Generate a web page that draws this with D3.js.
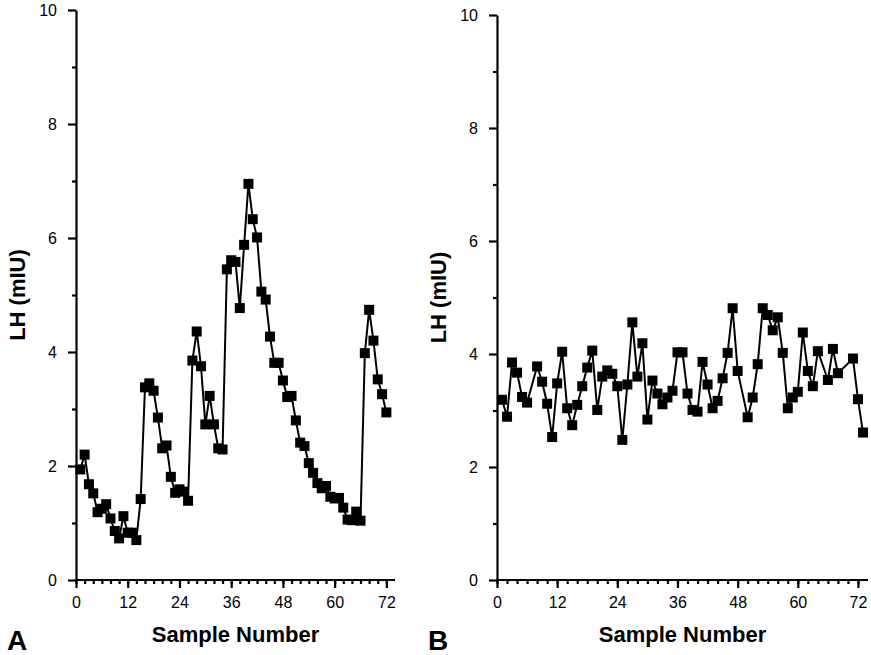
<!DOCTYPE html>
<html lang="en">
<head>
  <meta charset="utf-8">
  <title>LH pulses</title>
  <script src="https://d3js.org/d3.v7.min.js"></script>
  <style>
  body { margin: 0; background: #fff; }
  svg { font-family: "Liberation Sans", Arial, sans-serif; }
  </style>
</head>
<body>
  <script>
  // panel A samples 1..72
  var samplesA = d3.range(1, 73);
  var lhA = [1.94, 2.2, 1.68, 1.52, 1.19, 1.25, 1.33, 1.08, 0.86, 0.73,
    1.12, 0.83, 0.83, 0.70, 1.42, 3.38, 3.45, 3.32, 2.85, 2.31,
    2.36, 1.81, 1.53, 1.59, 1.55, 1.39, 3.85, 4.36, 3.75, 2.73,
    3.23, 2.73, 2.31, 2.29, 5.45, 5.61, 5.58, 4.77, 5.88, 6.95,
    6.33, 6.01, 5.06, 4.92, 4.27, 3.81, 3.81, 3.50, 3.21, 3.23,
    2.80, 2.41, 2.35, 2.05, 1.88, 1.70, 1.61, 1.65, 1.46, 1.43,
    1.44, 1.27, 1.06, 1.05, 1.20, 1.04, 3.98, 4.74, 4.20, 3.52,
    3.26, 2.94];

  // panel B has a few gaps
  var samplesB = [1, 2, 3, 4, 5, 6, 8, 9, 10, 11, 12, 13, 14, 15, 16, 17, 18, 19, 20,
    21, 22, 23, 24, 25, 26, 27, 28, 29, 30, 31, 32, 33, 34, 35, 36, 37, 38, 39, 40,
    41, 42, 43, 44, 45, 46, 47, 48, 50, 51, 52, 53, 54, 55, 56, 57, 58, 59, 60,
    61, 62, 63, 64, 66, 67, 68, 71, 72, 73];
  var lhB = [3.19, 2.89, 3.85, 3.67, 3.24, 3.14, 3.78, 3.51, 3.12, 2.53, 3.48, 4.04, 3.04, 2.74, 3.10, 3.43, 3.76, 4.06, 3.01,
    3.60, 3.71, 3.65, 3.43, 2.48, 3.46, 4.56, 3.60, 4.19, 2.84, 3.53, 3.30, 3.11, 3.23, 3.35, 4.03, 4.03, 3.30, 3.01, 2.98,
    3.86, 3.46, 3.04, 3.17, 3.57, 4.02, 4.81, 3.70, 2.88, 3.23, 3.82, 4.81, 4.69, 4.42, 4.65, 4.02, 3.04, 3.23, 3.33,
    4.38, 3.70, 3.43, 4.05, 3.54, 4.09, 3.66, 3.92, 3.20, 2.61];

  var xMajor = [0, 12, 24, 36, 48, 60, 72];
  var xMinor = d3.range(0, 74, 2);
  var yMajor = [0, 2, 4, 6, 8, 10];
  var yMinor = [1, 3, 5, 7, 9];

  var svg = d3.select("body").append("svg")
    .attr("width", 871)
    .attr("height", 655);

  function drawPanel(p) {
    var x = d3.scaleLinear().domain([0, 74]).range([p.left, p.right]);
    var y = d3.scaleLinear().domain([0, 10]).range([p.bottom, p.top]);
    var g = svg.append("g");

    // minor ticks first, then majors with labels
    g.append("g")
      .attr("transform", "translate(0," + p.bottom + ")")
      .call(d3.axisBottom(x).tickValues(xMinor).tickSize(4).tickFormat(""))
      .call(function(a) { a.select(".domain").remove(); });
    g.append("g")
      .attr("transform", "translate(0," + p.bottom + ")")
      .call(d3.axisBottom(x).tickValues(xMajor).tickSize(8).tickSizeOuter(0).tickPadding(9))
      .call(function(a) { a.select(".domain").attr("d", "M" + p.left + ",0H" + p.right); });
    g.append("g")
      .attr("transform", "translate(" + p.left + ",0)")
      .call(d3.axisLeft(y).tickValues(yMinor).tickSize(4).tickFormat(""))
      .call(function(a) { a.select(".domain").remove(); });
    g.append("g")
      .attr("transform", "translate(" + p.left + ",0)")
      .call(d3.axisLeft(y).tickValues(yMajor).tickSize(8).tickSizeOuter(0).tickPadding(11));

    g.selectAll(".domain, .tick line").attr("stroke", "#000").attr("stroke-width", 2.2);
    g.selectAll(".tick text")
      .attr("fill", "#000")
      .style("font-size", "16px");

    var line = d3.line()
      .x(function(d) { return x(d[0]); })
      .y(function(d) { return y(d[1]); });
    var pts = d3.zip(p.xs, p.ys);

    g.append("path")
      .datum(pts)
      .attr("d", line)
      .attr("fill", "none")
      .attr("stroke", "#000")
      .attr("stroke-width", 2);

    g.selectAll("rect.pt")
      .data(pts)
      .enter().append("rect")
      .attr("class", "pt")
      .attr("x", function(d) { return x(d[0]) - 5; })
      .attr("y", function(d) { return y(d[1]) - 5; })
      .attr("width", 10)
      .attr("height", 10)
      .attr("fill", "#000");

    g.append("text")
      .attr("x", (p.left + p.right) / 2)
      .attr("y", 642)
      .attr("text-anchor", "middle")
      .style("font-size", "22px")
      .style("font-weight", "bold")
      .text("Sample Number");

    g.append("text")
      .attr("transform", "translate(" + (p.left - 51) + "," + ((p.top + p.bottom) / 2) + ") rotate(-90)")
      .attr("text-anchor", "middle")
      .style("font-size", "22px")
      .style("font-weight", "bold")
      .text("LH (mIU)");

    g.append("text")
      .attr("x", p.left - 69)
      .attr("y", 650)
      .style("font-size", "28px")
      .style("font-weight", "bold")
      .text(p.tag);
  }

  drawPanel({left: 76, right: 395, top: 10, bottom: 580, xs: samplesA, ys: lhA, tag: "A"});
  drawPanel({left: 497, right: 868, top: 15, bottom: 580, xs: samplesB, ys: lhB, tag: "B"});
  </script>
</body>
</html>
